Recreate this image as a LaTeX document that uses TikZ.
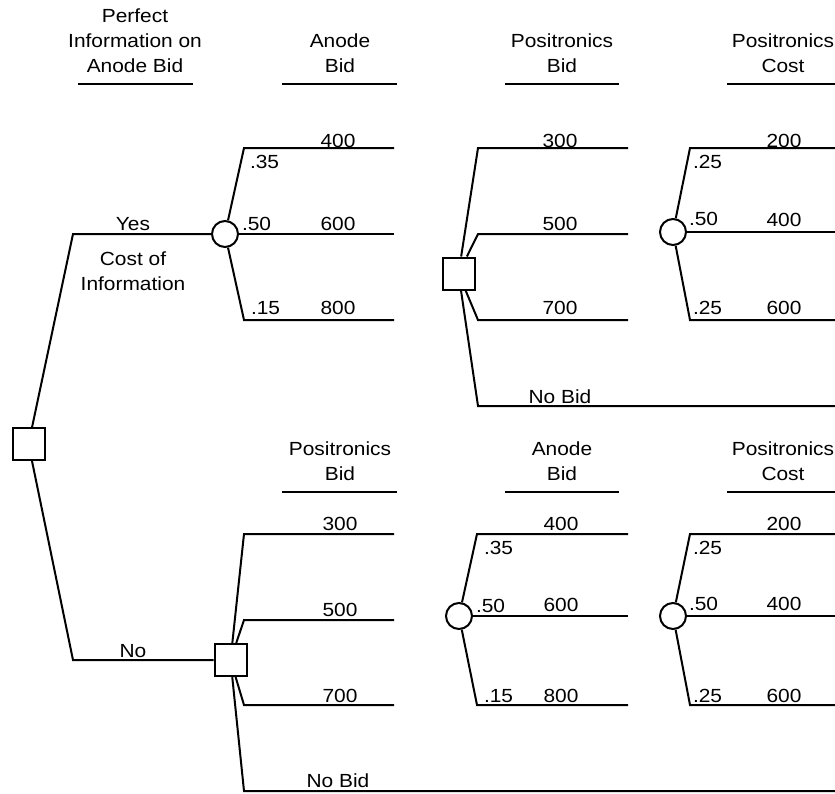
\documentclass[tikz,border=0pt]{standalone}
\usepackage{fontspec}
\setmainfont{Liberation Sans}[FakeStretch=1.1]
\begin{document}
\begin{tikzpicture}[x=1pt,y=-1pt,
  line width=2pt,
  every node/.style={inner sep=0pt, font=\fontsize{19}{25}\selectfont},
  decision/.style={draw, fill=white, rectangle, minimum width=32pt, minimum height=32pt},
  chance/.style={draw, fill=white, circle, minimum size=26pt},
  lbl/.style={anchor=base},
  prob/.style={anchor=base west},
  head/.style={anchor=south, align=center},
]
\useasboundingbox (0,0) rectangle (835,793);

% ---- decision and chance nodes ----
\node[decision] (root)    at (28.5,444)   {};
\node[chance]   (infoC)   at (225,234)    {};
\node[decision] (posD1)   at (458.5,273.5){};
\node[chance]   (costC1)  at (673,232)    {};
\node[decision] (posD2)   at (230.5,660)  {};
\node[chance]   (anodeC2) at (459,616)    {};
\node[chance]   (costC2)  at (673,616)    {};

% ---- first decision: buy information or not ----
\coordinate (kYes) at (73,234);
\coordinate (kNo)  at (73,660);
\draw (root) -- (kYes) -- (infoC);
\draw (root) -- (kNo) -- (posD2);
\node[lbl] (tYes) at (133,230) {Yes};
\node[head] (tCost) at (133,292) {Cost of\\Information};
\node[lbl] (tNo) at (133,657) {No};

% ---- headers ----
\node[head] (hInfo)   at (135,74) {Perfect\\Information on\\Anode Bid};
\node[head] (hAnode1) at (340,74) {Anode\\Bid};
\node[head] (hPos1)   at (562,74) {Positronics\\Bid};
\node[head] (hCost1)  at (783,74) {Positronics\\Cost};
\draw (78,84) -- (193,84);
\draw (282,84) -- (397,84);
\draw (505,84) -- (619,84);
\draw (727,84) -- (841,84);

\node[head] (hPos2)   at (340,482) {Positronics\\Bid};
\node[head] (hAnode2) at (562,482) {Anode\\Bid};
\node[head] (hCost2)  at (783,482) {Positronics\\Cost};
\draw (282,492) -- (397,492);
\draw (505,492) -- (619,492);
\draw (727,492) -- (841,492);

% ---- upper part: Anode bid known ----
\foreach \y [count=\i] in {148,234,320} {
  \coordinate (infoC-k\i) at (244,\y);
  \coordinate (infoC-e\i) at (394,\y);
  \draw (infoC) -- (infoC-k\i) -- (infoC-e\i);
}
\node[prob] at (249,168) {.35};
\node[prob] at (241,230) {.50};
\node[prob] at (250,314) {.15};
\node[lbl] at (338,147) {400};
\node[lbl] at (338,230) {600};
\node[lbl] at (338,314) {800};

\foreach \y/\e [count=\i] in {148/628,234/628,320/628,406/841} {
  \coordinate (posD1-k\i) at (478,\y);
  \coordinate (posD1-e\i) at (\e,\y);
  \draw (posD1) -- (posD1-k\i) -- (posD1-e\i);
}
\node[lbl] at (560,147) {300};
\node[lbl] at (560,230) {500};
\node[lbl] at (560,314) {700};
\node[lbl] at (560,403) {No Bid};

\foreach \y [count=\i] in {148,232,320} {
  \coordinate (costC1-k\i) at (690,\y);
  \coordinate (costC1-e\i) at (841,\y);
  \draw (costC1) -- (costC1-k\i) -- (costC1-e\i);
}
\node[prob] at (692,168) {.25};
\node[prob] at (688,225) {.50};
\node[prob] at (692,314) {.25};
\node[lbl] at (784,147) {200};
\node[lbl] at (784,226) {400};
\node[lbl] at (784,314) {600};

% ---- lower part: no information ----
\foreach \y/\e [count=\i] in {534/394,620/394,705/394,791/841} {
  \coordinate (posD2-k\i) at (244,\y);
  \coordinate (posD2-e\i) at (\e,\y);
  \draw (posD2) -- (posD2-k\i) -- (posD2-e\i);
}
\node[lbl] at (340,530) {300};
\node[lbl] at (340,616) {500};
\node[lbl] at (340,702) {700};
\node[lbl] at (338,787) {No Bid};

\foreach \y [count=\i] in {534,616,705} {
  \coordinate (anodeC2-k\i) at (477,\y);
  \coordinate (anodeC2-e\i) at (628,\y);
  \draw (anodeC2) -- (anodeC2-k\i) -- (anodeC2-e\i);
}
\node[prob] at (483,554) {.35};
\node[prob] at (475,612) {.50};
\node[prob] at (483,702) {.15};
\node[lbl] at (561,530) {400};
\node[lbl] at (561,611) {600};
\node[lbl] at (561,702) {800};

\foreach \y [count=\i] in {534,616,705} {
  \coordinate (costC2-k\i) at (690,\y);
  \coordinate (costC2-e\i) at (841,\y);
  \draw (costC2) -- (costC2-k\i) -- (costC2-e\i);
}
\node[prob] at (692,554) {.25};
\node[prob] at (688,610) {.50};
\node[prob] at (692,702) {.25};
\node[lbl] at (784,530) {200};
\node[lbl] at (784,610) {400};
\node[lbl] at (784,702) {600};
\end{tikzpicture}
\end{document}
